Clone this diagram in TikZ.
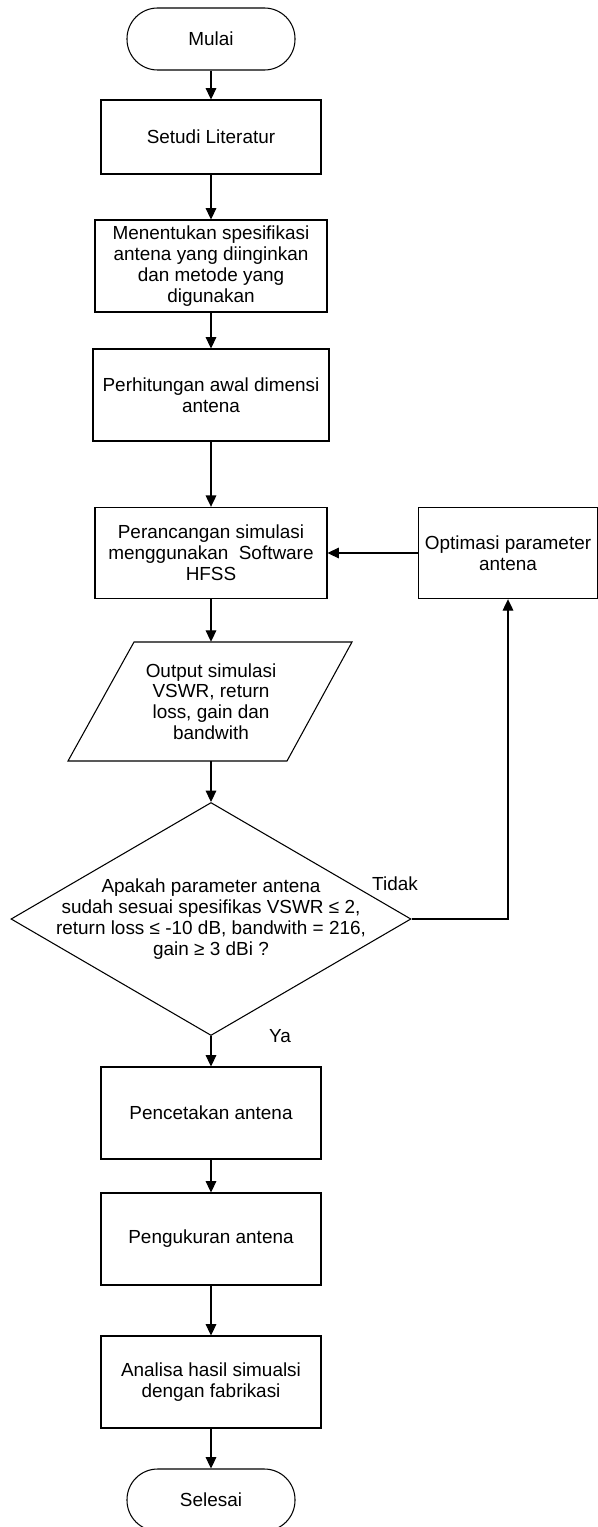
\documentclass[tikz,border=0pt]{standalone}
\usepackage{fontspec}
\setmainfont{Liberation Sans}
\usetikzlibrary{arrows.meta,shapes.geometric,calc}
\begin{document}
\begin{tikzpicture}[x=0.75pt,y=-0.75pt,
  every node/.style={font=\fontsize{14.2pt}{15.6pt}\selectfont, align=center},
  proc/.style={draw, line width=0.8pt, rectangle, inner sep=0pt},
  term/.style={draw, line width=0.8pt, rectangle, rounded corners=23pt, minimum width=126pt, minimum height=46.5pt, inner sep=0pt},
  arr/.style={-{Triangle[length=8.5pt,width=8pt]}, line width=0.8pt},
  ln/.style={line width=0.8pt}]
\useasboundingbox (0,0) rectangle (598,1527);

\node[term] (mulai) at (211,39) {Mulai};
\node[proc, minimum width=165pt, minimum height=55.5pt] (studi) at (211,137) {Setudi Literatur};
\node[proc, minimum width=174pt, minimum height=69pt] (spek) at (211,266) {Menentukan spesifikasi\\antena yang diinginkan\\dan metode yang\\digunakan};
\node[proc, minimum width=177pt, minimum height=69pt] (hitung) at (211,395) {Perhitungan awal dimensi\\antena};
\node[proc, minimum width=174pt, minimum height=68.5pt] (rancang) at (211,553) {Perancangan simulasi\\menggunakan\ \ Software\\HFSS};
\node[proc, minimum width=134pt, minimum height=68.5pt] (optim) at (508,553) {Optimasi parameter\\antena};

\draw[ln] (134,642) -- (352,642) -- (287,761) -- (68,761) -- cycle;
\node[inner sep=0pt, minimum height=89.25pt] (output) at (211,701.5) {Output simulasi\\VSWR, return\\loss, gain dan\\bandwith};

\node[draw, diamond, line width=0.8pt, minimum width=300pt, minimum height=174.75pt, inner sep=0pt] (cek) at (211,919) {};
\node at (cek) {Apakah parameter antena\\sudah sesuai spesifikas VSWR ≤ 2,\\return loss ≤ -10 dB, bandwith = 216,\\gain ≥ 3 dBi ?};

\node[proc, minimum width=165pt, minimum height=69pt] (cetak) at (211,1113) {Pencetakan antena};
\node[proc, minimum width=165pt, minimum height=69pt] (ukur) at (211,1239) {Pengukuran antena};
\node[proc, minimum width=165pt, minimum height=69pt] (analisa) at (211,1382) {Analisa hasil simualsi\\dengan fabrikasi};
\node[term] (selesai) at (211,1500) {Selesai};

\node (tidak) at (395,884) {Tidak};
\node (ya) at (280,1036) {Ya};

\draw[arr] (mulai) -- (studi);
\draw[arr] (studi) -- (spek);
\draw[arr] (spek) -- (hitung);
\draw[arr] (hitung) -- (rancang);
\draw[arr] (rancang) -- (output.north);
\draw[arr] (output.south) -- (cek.north);
\draw[arr] (cek.east) -| (optim.south);
\draw[arr] (optim.west) -- (rancang.east);
\draw[arr] (cek.south) -- (cetak.north);
\draw[arr] (cetak) -- (ukur);
\draw[arr] (ukur) -- (analisa);
\draw[arr] (analisa) -- (selesai);
\end{tikzpicture}
\end{document}
